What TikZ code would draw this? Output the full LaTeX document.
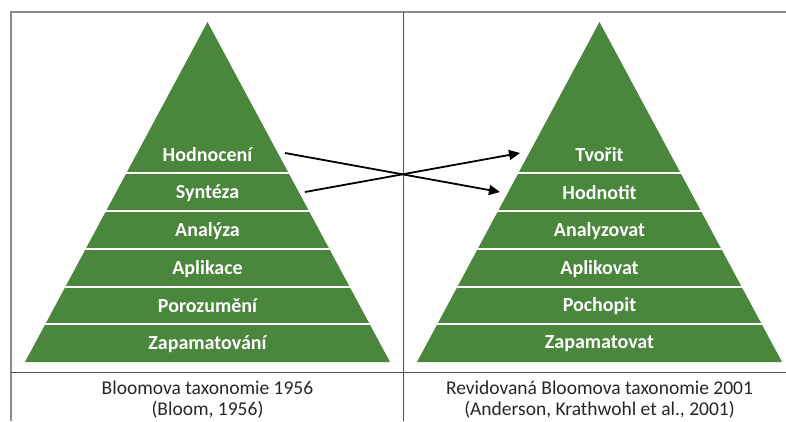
\documentclass[tikz,border=0pt]{standalone}
\usepackage{fontspec}
\setmainfont{Carlito}
\usetikzlibrary{arrows.meta}
\definecolor{pgreen}{RGB}{74,135,60}
\definecolor{bordergray}{RGB}{140,140,140}
\definecolor{linegray}{RGB}{80,80,80}
\tikzset{
  band/.style={text=white, font=\fontsize{20}{23}\selectfont\bfseries, inner sep=0pt},
  caption/.style={text=black!85, font=\fontsize{19.5}{22}\selectfont, inner sep=0pt},
  sep/.style={white, line width=2pt},
  conn/.style={black, line width=1.8pt, -{Triangle[length=11pt,width=10pt]}},
}
\begin{document}
\begin{tikzpicture}[x=1pt,y=-1pt]
\useasboundingbox (0,0) rectangle (786,421);
% table lines
\draw[bordergray, line width=1.8pt] (11,421) -- (11,12) -- (786,12);
\draw[linegray, line width=0.9pt] (403,12) -- (403,421);
\draw[linegray, line width=0.9pt] (11,372) -- (786,372);
% pyramids
\foreach \cx in {207.5,599.5}{
  \begin{scope}
    \fill[pgreen] (\cx,22) -- (\cx+182.5,362) -- (\cx-182.5,362) -- cycle;
    \clip (\cx,22) -- (\cx+182.5,362) -- (\cx-182.5,362) -- cycle;
    \foreach \yy in {173,211,249,287,324}{
      \draw[sep] (\cx-190,\yy) -- (\cx+190,\yy);
    }
  \end{scope}
}
% left labels
\node[band] (l1) at (207.5,155) {Hodnocení};
\node[band] (l2) at (207.5,193) {Syntéza};
\node[band] (l3) at (207.5,231) {Analýza};
\node[band] (l4) at (207.5,269) {Aplikace};
\node[band] (l5) at (207.5,306) {Porozumění};
\node[band] (l6) at (207.5,344) {Zapamatování};
% right labels
\node[band] (r1) at (599.5,155) {Tvořit};
\node[band] (r2) at (599.5,193) {Hodnotit};
\node[band] (r3) at (599.5,231) {Analyzovat};
\node[band] (r4) at (599.5,269) {Aplikovat};
\node[band] (r5) at (599.5,306) {Pochopit};
\node[band] (r6) at (599.5,344) {Zapamatovat};
% captions
\node[caption] (c1) at (207.5,388) {Bloomova taxonomie 1956};
\node[caption] (c2) at (207.5,410) {(Bloom, 1956)};
\node[caption] (c3) at (599.5,388) {Revidovaná Bloomova taxonomie 2001};
\node[caption] (c4) at (599.5,410) {(Anderson, Krathwohl et al., 2001)};
% arrows
\coordinate (a1) at (285,153);
\coordinate (b1) at (500,192);
\coordinate (a2) at (305,192);
\coordinate (b2) at (520,153);
\draw[conn] (a1) -- (b1);
\draw[conn] (a2) -- (b2);
\end{tikzpicture}
\end{document}
